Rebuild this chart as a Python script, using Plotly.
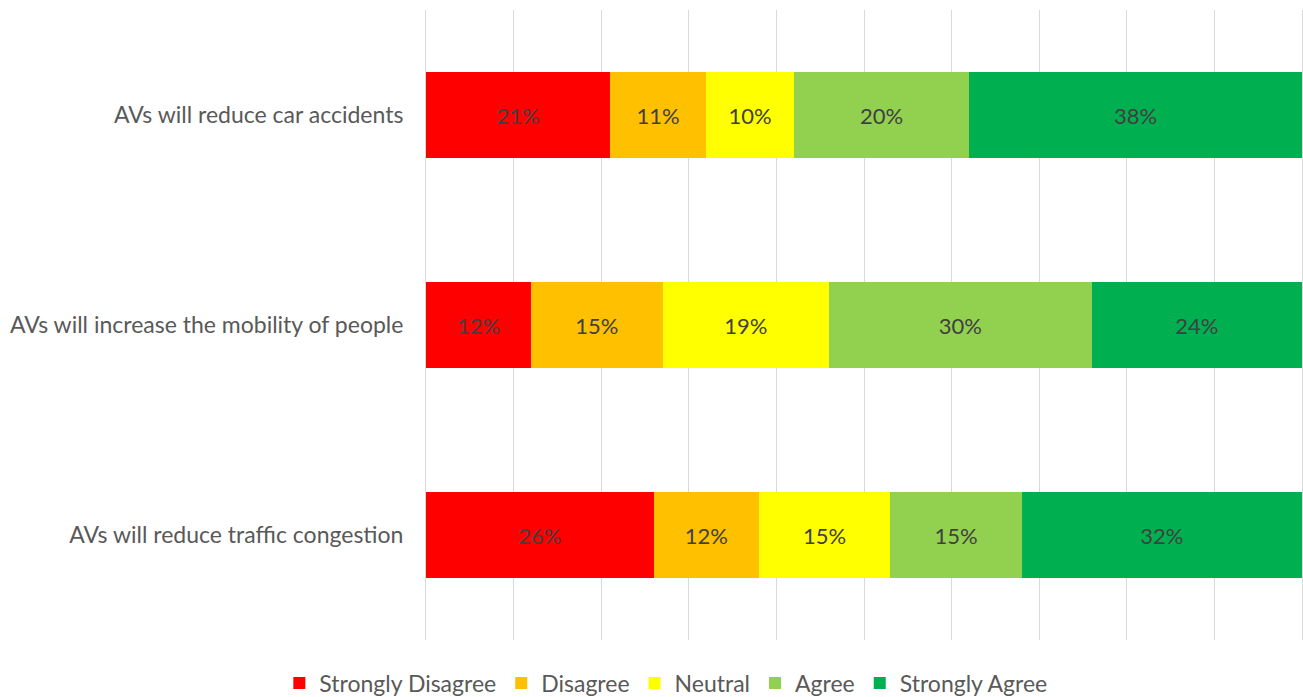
import plotly.graph_objects as go

statements = [
    "AVs will reduce car accidents",
    "AVs will increase the mobility of people",
    "AVs will reduce traffic congestion",
]
levels = ["Strongly Disagree", "Disagree", "Neutral", "Agree", "Strongly Agree"]
colors = ["#FF0000", "#FFC000", "#FFFF00", "#92D050", "#00B050"]

# percentage of respondents per level, in the order of `statements`
strongly_disagree = [21, 12, 26]
disagree = [11, 15, 12]
neutral = [10, 19, 15]
agree = [20, 30, 15]
strongly_agree = [38, 24, 32]
series = [strongly_disagree, disagree, neutral, agree, strongly_agree]

font_family = "Lato, Open Sans, sans-serif"

fig = go.Figure()
for name, vals, col in zip(levels, series, colors):
    fig.add_trace(go.Bar(
        y=statements,
        x=vals,
        name=name,
        orientation="h",
        marker=dict(color=col, line=dict(width=0)),
        text=[f"{v}%" for v in vals],
        textposition="inside",
        insidetextanchor="middle",
        textfont=dict(color="#404040", size=22, family=font_family),
        width=0.405,
        hoverinfo="skip",
    ))

fig.update_layout(
    barmode="stack",
    width=1303,
    height=697,
    paper_bgcolor="white",
    plot_bgcolor="white",
    margin=dict(l=426, r=1, t=10, b=57),
    font=dict(family=font_family, size=23, color="#595959"),
    showlegend=True,
    legend=dict(
        orientation="h",
        xref="container",
        yref="container",
        x=0.511,
        xanchor="center",
        y=0.02,
        yanchor="middle",
        font=dict(size=23, color="#595959"),
        itemwidth=30,
        traceorder="normal",
    ),
    uniformtext=dict(minsize=22, mode="show"),
)
fig.update_xaxes(
    range=[0, 100],
    dtick=10,
    showticklabels=False,
    showgrid=True,
    gridcolor="#D9D9D9",
    gridwidth=1,
    zeroline=False,
    showline=False,
    fixedrange=True,
)
fig.update_yaxes(
    autorange="reversed",
    showgrid=False,
    showline=True,
    mirror=True,
    linecolor="#D9D9D9",
    linewidth=1,
    ticks="",
    ticklabelstandoff=17,
    tickfont=dict(size=23, color="#595959"),
)

fig.write_html("out.html")
